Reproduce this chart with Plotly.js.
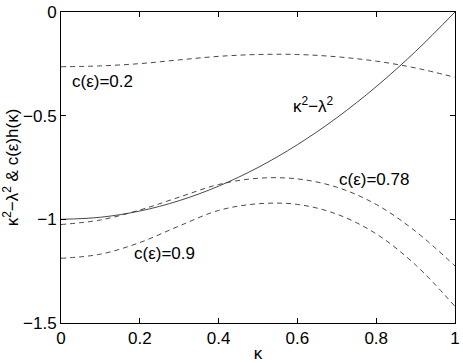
<!DOCTYPE html>
<html>
<head>
<meta charset="utf-8">
<script src="https://cdn.plot.ly/plotly-3.0.1.min.js"></script>
<style>
  html, body { margin: 0; padding: 0; background: #fff; }
  #plot { width: 463px; height: 363px; }
</style>
</head>
<body>
<div id="plot"></div>
<script>
// values
var kappa = [0, 0.1, 0.2, 0.3, 0.4, 0.5, 0.6, 0.7, 0.8, 0.9, 1.0];
var solidK2L2 = [-1.0, -0.99, -0.96, -0.91, -0.84, -0.75, -0.64, -0.51, -0.36, -0.19, 0.0];
var c020 = [-0.264, -0.260, -0.249, -0.231, -0.214, -0.205, -0.205, -0.216, -0.237, -0.270, -0.315];
var c078 = [-1.025, -1.003, -0.955, -0.893, -0.832, -0.802, -0.805, -0.845, -0.928, -1.058, -1.225];
var c090 = [-1.188, -1.168, -1.112, -1.032, -0.957, -0.925, -0.928, -0.975, -1.070, -1.220, -1.420];

var labels = ['c(ε)=0.2', 'c(ε)=0.78', 'c(ε)=0.9', 'κ<sup>2</sup>−λ<sup>2</sup>'];
var labelX = [0.105, 0.795, 0.263, 0.64];
var labelY = [-0.335, -0.806, -1.163, -0.45];

var font = 'Liberation Sans, Arial, Helvetica, sans-serif';
var fs = 17;

function dashed(y) {
  return {
    x: kappa, y: y, type: 'scatter', mode: 'lines',
    line: {color: '#333', width: 0.9, dash: '5px,4px', shape: 'spline'},
    hoverinfo: 'skip'
  };
}

var data = [
  {
    x: kappa, y: solidK2L2, type: 'scatter', mode: 'lines',
    line: {color: '#333', width: 0.9, shape: 'spline'}
  },
  dashed(c020),
  dashed(c078),
  dashed(c090)
];

var annotations = [];
for (var i = 0; i < labels.length; i++) {
  annotations.push({
    x: labelX[i], y: labelY[i], xref: 'x', yref: 'y',
    text: labels[i], showarrow: false,
    font: {family: font, size: fs, color: '#000'}
  });
}

var layout = {
  width: 463, height: 363,
  margin: {l: 61, r: 8, t: 12, b: 40},
  paper_bgcolor: '#fff', plot_bgcolor: '#fff',
  showlegend: false,
  font: {family: font, size: fs, color: '#000'},
  xaxis: {
    range: [0, 1], tickvals: [0, 0.2, 0.4, 0.6, 0.8, 1],
    ticks: 'inside', ticklen: 5, tickcolor: '#000',
    showline: true, linecolor: '#000', linewidth: 1, mirror: 'ticks',
    showgrid: false, zeroline: false, automargin: false,
    title: {text: 'κ', standoff: 0, font: {family: font, size: fs}}
  },
  yaxis: {
    range: [-1.5, 0], tickvals: [-1.5, -1, -0.5, 0],
    ticks: 'inside', ticklen: 5, tickcolor: '#000',
    showline: true, linecolor: '#000', linewidth: 1, mirror: 'ticks',
    showgrid: false, zeroline: false, automargin: false,
    title: {text: 'κ<sup>2</sup>−λ<sup>2</sup> &amp; c(ε)h(κ)', standoff: 2, font: {family: font, size: fs}}
  },
  annotations: annotations
};

Plotly.newPlot('plot', data, layout, {staticPlot: true});
</script>
</body>
</html>
